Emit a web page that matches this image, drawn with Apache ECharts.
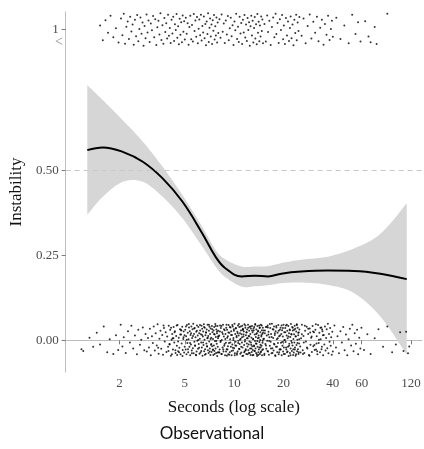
<!DOCTYPE html>
<html>
<head>
<meta charset="utf-8">
<script src="https://cdn.jsdelivr.net/npm/echarts@6.0.0/dist/echarts.min.js"></script>
<style>
  html, body { margin: 0; padding: 0; background: #fff; }
  #chart { width: 424px; height: 449px; }
</style>
</head>
<body>
<div id="chart"></div>
<script>
// smoothed fit (seconds -> instability) and its confidence band
const fitX = [1.27, 1.58, 2.09, 2.77, 3.66, 4.83, 6.38, 7.69, 8.83, 11.1, 13.4, 16.1, 19.4, 25.6, 37.2, 53.8, 78, 113]
const fitY = [0.559, 0.567, 0.554, 0.525, 0.476, 0.408, 0.315, 0.246, 0.212, 0.188, 0.190, 0.188, 0.196, 0.202, 0.205, 0.204, 0.196, 0.180]
const bandUpper = [0.750, 0.706, 0.647, 0.584, 0.510, 0.427, 0.334, 0.266, 0.238, 0.217, 0.217, 0.218, 0.227, 0.237, 0.246, 0.270, 0.313, 0.403]
const bandLower = [0.369, 0.422, 0.466, 0.466, 0.422, 0.359, 0.276, 0.217, 0.186, 0.158, 0.159, 0.162, 0.168, 0.170, 0.163, 0.139, 0.070, -0.042]

const xTicks = [2, 5, 10, 20, 40, 60, 120]
const yTicks = [0, 0.25, 0.5, 1]
const yTickLabels = ['0.00', '0.25', '0.50', '1']
// the axis is broken above 0.5, so "1" sits lower on the scale
const ONE_POS = 0.913

// observations, [seconds, vertical jitter]; outcome 0
const stablePts = [
  [1.17,-.026],[1.2,-.031],[1.31,.008],[1.38,-.019],[1.45,.022],[1.52,-.012],[1.6,.041],[1.68,-.035],[1.74,.003],[1.83,-.04],[1.9,.015],[1.96,-.028],
  [2.03,.046],[2.08,-.018],[2.12,.009],[2.18,-.037],[2.25,.027],[2.31,-.006],[2.36,.043],[2.42,-.024],[2.48,.014],[2.55,-.041],[2.6,.031],[2.66,-.013],[2.71,.002],[2.77,.038],[2.83,-.029],[2.88,.019],[2.93,-.033],[2.98,.007],
  [3.02,-.021],[3.06,.034],[3.1,-.044],[3.15,.012],[3.19,-.008],[3.23,.041],[3.28,-.03],[3.32,.021],[3.37,-.015],[3.41,.047],[3.46,-.039],[3.5,.005],[3.55,.028],[3.59,-.025],[3.64,.016],[3.68,-.042],[3.73,.036],[3.77,-.003],[3.82,.024],[3.86,-.034],[3.9,.011],[3.95,-.019],[3.99,.043],[4.03,-.011],[4.07,.031],[4.11,-.045],[4.15,.002],[4.19,.019],[4.23,-.027],[4.27,.039],[4.31,-.006],[4.35,.027],[4.39,-.037],[4.43,.013],[4.47,-.016],[4.51,.045],[4.55,-.032],[4.59,.008],[4.63,-.022],[4.67,.033],[4.71,-.041],[4.74,.017],[4.78,-.009],[4.82,.04],[4.85,-.028],[4.89,.004],[4.92,.026],[4.95,-.036],[4.98,.015],[3.44,-.022],[3.71,.044],[3.97,-.031],[4.21,.006],[4.49,-.043],[4.76,.029],
  [5.03,.031],[5.06,-.027],[5.09,.012],[5.12,-.041],[5.15,.045],[5.18,-.008],[5.21,.022],[5.24,-.035],[5.27,.003],[5.3,.038],[5.33,-.019],[5.36,.027],[5.39,-.044],[5.42,.016],[5.45,-.012],[5.48,.041],[5.51,-.03],[5.54,.007],[5.57,.033],[5.6,-.023],[5.63,.049],[5.66,-.038],[5.69,.019],[5.72,-.004],[5.75,.036],[5.78,-.016],[5.81,.009],[5.84,-.042],[5.87,.025],[5.9,-.033],[5.93,.044],[5.96,-.001],[5.99,.014],[6.02,-.025],[6.05,.039],[6.08,-.011],[6.11,.021],[6.14,-.039],[6.17,.005],[6.2,.029],
  [6.23,-.036],[6.26,.018],[6.29,-.006],[6.32,.043],[6.35,-.021],[6.38,.034],[6.41,-.045],[6.44,.011],[6.47,.026],[6.5,-.014],[6.53,.047],[6.56,-.032],[6.59,.002],[6.62,.037],[6.65,-.026],[6.68,.015],[6.71,-.04],[6.74,.023],[6.77,-.009],[6.8,.032],[6.83,-.018],[6.86,.006],[6.89,.046],[6.92,-.029],[6.95,.013],[6.98,-.037],[7.01,.028],[7.04,-.003],[7.07,.04],[7.1,-.024],[7.13,.019],[7.16,-.043],[7.19,.035],[7.22,-.013],[7.25,.008],[7.28,-.034],[7.31,.042],[7.34,-.017],[7.37,.024],[7.4,-.028],
  [7.43,.004],[7.46,-.043],[7.49,.029],[7.52,-.015],[7.55,.039],[7.58,-.031],[7.61,.017],[7.64,-.002],[7.67,.048],[7.7,-.024],[7.73,.01],[7.76,-.037],[7.79,.032],[7.82,-.01],[7.85,.021],[7.88,-.046],[7.91,.042],[7.94,-.019],[7.97,.006],[8.0,.028],
  [8.05,-.035],[8.1,.014],[8.15,-.027],[8.2,.044],[8.25,-.005],[8.3,.036],[8.35,-.04],[8.4,.001],[8.45,.024],[8.5,-.021],[8.55,.046],[8.6,-.033],[8.65,.011],[8.7,-.016],[8.75,.03],[8.8,-.044],[8.85,.019],[8.9,-.007],[8.95,.037],[9.0,-.026],
  [9.05,.031],[9.1,-.027],[9.15,.012],[9.2,-.041],[9.25,.045],[9.3,-.008],[9.35,.022],[9.4,-.035],[9.45,.003],[9.5,.038],[9.55,-.019],[9.6,.027],[9.65,-.044],[9.7,.016],[9.75,-.012],[9.8,.041],[9.85,-.03],[9.9,.007],[9.95,.033],[10.0,-.023],[10.05,.049],[10.1,-.038],[10.15,.019],[10.2,-.004],[10.25,.036],[10.3,-.016],[10.35,.009],[10.4,-.042],[10.45,.025],[10.5,-.033],[10.55,.044],[10.6,-.001],[10.65,.014],[10.7,-.025],[10.75,.039],[10.8,-.011],[10.85,.021],[10.9,-.039],[10.95,.005],[11.0,.029],
  [11.05,-.036],[11.1,.018],[11.15,-.006],[11.2,.043],[11.25,-.021],[11.3,.034],[11.35,-.045],[11.4,.011],[11.45,.026],[11.5,-.014],[11.55,.047],[11.6,-.032],[11.65,.002],[11.7,.037],[11.75,-.026],[11.8,.015],[11.85,-.04],[11.9,.023],[11.95,-.009],[12.0,.032],[12.05,-.018],[12.1,.006],[12.15,.046],[12.2,-.029],[12.25,.013],[12.3,-.037],[12.35,.028],[12.4,-.003],[12.45,.04],[12.5,-.024],[12.55,.019],[12.6,-.043],[12.65,.035],[12.7,-.013],[12.75,.008],[12.8,-.034],[12.85,.042],[12.9,-.017],[12.95,.024],[13.0,-.028],
  [13.05,.004],[13.1,-.043],[13.15,.029],[13.2,-.015],[13.25,.039],[13.3,-.031],[13.35,.017],[13.4,-.002],[13.45,.048],[13.5,-.024],[13.55,.01],[13.6,-.037],[13.65,.032],[13.7,-.01],[13.75,.021],[13.8,-.046],[13.85,.042],[13.9,-.019],[13.95,.006],[14.0,.028],[14.05,-.035],[14.1,.014],[14.15,-.027],[14.2,.044],[14.25,-.005],[14.3,.036],[14.35,-.04],[14.4,.001],[14.45,.024],[14.5,-.021],[14.55,.046],[14.6,-.033],[14.65,.011],[14.7,-.016],[14.75,.03],[14.8,-.044],[14.85,.019],[14.9,-.007],[14.95,.037],[15.0,-.026],
  [15.1,.029],[15.2,.005],[15.3,-.039],[15.4,.021],[15.5,-.011],[15.6,.039],[15.7,-.025],[15.8,.014],[15.9,-.001],[16.0,.044],[16.1,-.033],[16.2,.025],[16.3,-.042],[16.4,.009],[16.5,-.016],[16.6,.036],[16.7,-.004],[16.8,.019],[16.9,-.038],[17.0,.049],[17.1,-.023],[17.2,.033],[17.3,.007],[17.4,-.03],[17.5,.041],[17.6,-.012],[17.7,.016],[17.8,-.044],[17.9,.027],[18.0,-.019],[18.1,.038],[18.2,.003],[18.3,-.035],[18.4,.022],[18.5,-.008],[18.6,.045],[18.7,-.041],[18.8,.012],[18.9,-.027],[19.0,.031],
  [19.1,-.026],[19.2,.037],[19.3,-.007],[19.4,.019],[19.5,-.044],[19.6,.03],[19.7,-.016],[19.8,.011],[19.9,-.033],[20.0,.046],[20.1,-.021],[20.2,.024],[20.3,.001],[20.4,-.04],[20.5,.036],[20.6,-.005],[20.7,.044],[20.8,-.027],[20.9,.014],[21.0,-.035],[21.1,.028],[21.2,.006],[21.3,-.019],[21.4,.042],[21.5,-.046],[21.6,.021],[21.7,-.01],[21.8,.032],[21.9,-.037],[22.0,.01],[22.1,-.024],[22.2,.048],[22.3,-.002],[22.4,.017],[22.5,-.031],[22.6,.039],[22.7,-.015],[22.8,.029],[22.9,-.043],[23.0,.004],
  [23.1,-.036],[23.2,.018],[23.3,-.006],[23.4,.043],[23.5,-.021],[23.6,.034],[23.7,-.045],[23.8,.011],[23.9,.026],[24.0,-.014],[24.1,.047],[24.2,-.032],[24.3,.002],[24.4,.037],[24.5,-.026],[24.6,.015],[24.7,-.04],[24.8,.023],[24.9,-.009],[25.0,.032],
  [25.3,-.018],[25.6,.006],[25.9,.046],[26.2,-.029],[26.5,.013],[26.8,-.037],[27.1,.028],[27.4,-.003],[27.7,.04],[28.0,-.024],[28.3,.019],[28.6,-.043],[28.9,.035],[29.2,-.013],[29.5,.008],[29.8,-.034],[30.1,.042],[30.4,-.017],[30.7,.024],[31.0,-.028],[31.3,.031],[31.6,-.027],[31.9,.012],[32.2,-.041],[32.5,.045],[32.8,-.008],[33.1,.022],[33.4,-.035],[33.7,.003],[34.0,.038],[34.3,-.019],[34.6,.027],[34.9,-.044],[35.2,.016],[35.5,-.012],[35.8,.041],[36.1,-.03],[36.4,.007],[36.7,.033],[37.0,-.023],[37.3,.049],[37.6,-.038],[37.9,.019],[38.2,-.004],[38.5,.036],[38.8,-.016],[39.1,.009],[39.4,-.042],[39.7,.025],[40.0,-.033],
  [40.9,.044],[41.8,-.021],[42.7,.012],[43.6,-.038],[44.5,.027],[45.4,-.006],[46.3,.039],[47.2,-.029],[48.1,.017],[49.0,-.044],[49.9,.003],[50.8,.034],[51.7,-.015],[52.6,.046],[53.5,-.032],[54.4,.021],[55.3,-.01],[56.2,.031],[57.1,-.041],[58.0,.008],[58.9,-.024],[59.8,.037],
  [62,-.028],[65,.018],[68,-.04],[72,.006],[76,.033],[81,-.019],[86,.041],[92,-.035],[97,-.012],[103,.024],[108,-.031],[112,.025],[115,-.038],[117,-.018],
  [4.04,-.012],[4.12,.037],[4.17,-.041],[4.26,.006],[4.33,.024],[4.38,-.029],[4.46,.044],[4.55,-.003],[4.61,-.035],[4.69,.017],[4.73,.031],[4.84,-.046],[4.91,.009],[4.99,-.019],[5.08,.041],[5.14,.002],[5.23,-.026],[5.29,.048],[5.38,-.008],[5.46,.021],[5.52,-.038],[5.61,.013],[5.7,.035],[5.77,-.015],[5.86,-.044],[5.92,.028],[6.04,.001],[6.11,-.022],[6.19,.045],[6.3,-.031],[6.37,.016],[6.46,-.006],[6.55,.039],[6.63,-.042],[6.72,.023],[6.84,-.017],[6.9,.008],[7.02,.046],[7.09,-.033],[7.18,.004],[7.26,-.011],[7.35,.033],[7.44,-.027],[7.53,.019],[7.6,-.04],[7.71,.042],[7.78,-.002],[7.86,.026],[7.93,-.036],[7.98,.011],
  [8.03,.011],[8.12,-.036],[8.19,.026],[8.27,-.002],[8.36,.042],[8.41,-.04],[8.52,.019],[8.58,-.027],[8.67,.033],[8.74,-.011],[8.83,.004],[8.92,-.033],[8.98,.046],[9.07,.008],[9.16,-.017],[9.22,.023],[9.33,-.042],[9.41,.039],[9.48,-.006],[9.57,.016],[9.63,-.031],[9.74,.045],[9.82,-.022],[9.88,.001],[9.97,.028],[10.08,-.044],[10.17,-.015],[10.23,.035],[10.34,.013],[10.41,-.038],[10.52,.021],[10.58,-.008],[10.69,.048],[10.77,-.026],[10.86,.002],[10.97,.041],[11.04,-.019],[11.16,.009],[11.22,-.046],[11.33,.031],[11.42,.017],[11.51,-.035],[11.63,-.003],[11.71,.044],[11.78,-.029],[11.89,.024],[11.97,.006],[12.08,-.041],[12.19,.037],[12.27,-.012],
  [12.38,.012],[12.46,-.037],[12.57,.041],[12.66,-.006],[12.74,-.024],[12.87,.029],[12.94,-.044],[13.06,.003],[13.13,.035],[13.24,-.017],[13.36,-.031],[13.43,.046],[13.57,-.009],[13.64,.019],[13.76,-.041],[13.83,-.002],[13.96,.026],[14.04,-.043],[14.13,.008],[14.26,-.021],[14.33,.038],[14.47,-.013],[14.52,-.035],[14.66,.015],[14.73,.044],[14.84,-.028],[14.92,-.001],[14.99,.022],[9.03,-.045],[11.27,.031],
  [15.08,.004],[15.27,-.043],[15.41,.029],[15.63,-.015],[15.82,.039],[15.97,-.031],[16.18,.017],[16.35,-.002],[16.52,.048],[16.77,-.024],[16.93,.01],[17.14,-.037],[17.36,.032],[17.48,-.01],[17.71,.021],[17.86,-.046],[18.07,.042],[18.25,-.019],[18.46,.006],[18.68,.028],[18.83,-.035],[19.06,.014],[19.22,-.027],[19.47,.044],[19.64,-.005],[19.85,.036],[20.08,-.04],[20.33,.001],[20.52,.024],[20.74,-.021],[20.97,.046],[21.18,-.033],[21.43,.011],[21.62,-.016],[21.88,.03],[22.06,-.044],[22.31,.019],[22.52,-.007],[22.78,.037],[22.96,-.026],[23.24,.031],[23.45,-.027],[23.68,.012],[23.87,-.041],[24.14,.045],[24.33,-.008],[24.58,.022],[24.76,-.035],[24.95,.003],[16.06,.038],
  [25.4,-.036],[25.9,.018],[26.6,-.006],[27.0,.043],[27.8,-.021],[28.3,.034],[28.8,-.045],[29.7,.011],[30.3,.026],[30.9,-.014],[31.5,.047],[32.1,-.032],[32.9,.002],[33.6,.037],[34.1,-.026],[34.8,.015],[26.3,-.04],[29.1,.023],[31.8,-.009],[34.4,.032]
]

// observations, [seconds, vertical jitter]; outcome 1
const unstablePts = [
  [1.52,.012],[1.58,-.031],[1.64,.028],[1.7,-.009],[1.76,.041],[1.83,-.022],[1.9,.004],[1.97,-.038],
  [2.04,.033],[2.08,-.016],[2.12,.047],[2.16,-.041],[2.2,.009],[2.24,.024],[2.28,-.027],[2.32,.038],[2.36,-.005],[2.4,.015],[2.44,-.044],[2.48,.029],[2.52,-.019],[2.56,.043],[2.6,-.034],[2.64,.002],[2.68,.036],[2.72,-.012],[2.76,.021],[2.8,-.047],[2.84,.011],[2.88,-.025],[2.92,.045],[2.96,-.008],[3.0,.027],
  [3.05,-.036],[3.1,.018],[3.15,-.002],[3.2,.04],[3.25,-.022],[3.3,.031],[3.35,-.045],[3.4,.007],[3.45,.026],[3.5,-.014],[3.55,.048],[3.6,-.03],[3.65,.013],[3.7,-.041],[3.75,.034],[3.8,-.007],[3.85,.019],[3.9,-.026],[3.95,.044],[4.0,-.018],[4.05,.005],[4.1,-.039],[4.15,.029],[4.2,-.011],[4.25,.038],[4.3,-.033],[4.35,.016],[4.4,-.001],[4.45,.046],[4.5,-.024],[4.55,.01],[4.6,-.043],[4.65,.032],[4.7,-.015],[4.75,.022],[4.8,-.037],[4.85,.042],[4.9,-.006],[4.95,.025],[5.0,-.029],
  [5.07,.035],[5.13,-.012],[5.2,.019],[5.27,-.044],[5.33,.008],[5.4,.041],[5.47,-.028],[5.53,.014],[5.6,-.035],[5.67,.046],[5.73,-.004],[5.8,.027],[5.87,-.021],[5.93,.037],[6.0,-.04],[6.07,.003],[6.13,.03],[6.2,-.016],[6.27,.044],[6.33,-.032],[6.4,.011],[6.47,-.008],[6.53,.039],[6.6,-.025],[6.67,.017],[6.73,-.046],[6.8,.024],[6.87,-.013],[6.93,.048],[7.0,-.036],[7.07,.006],[7.13,.033],[7.2,-.02],[7.27,.015],[7.33,-.042],[7.4,.028],[7.47,-.003],[7.53,.043],[7.6,-.029],[7.67,.01],[7.73,-.017],[7.8,.036],[7.87,-.038],[7.93,.021],[8.0,-.01],
  [8.13,.031],[8.25,-.024],[8.38,.045],[8.51,-.006],[8.64,.018],[8.76,-.039],[8.89,.027],[9.02,-.014],[9.15,.04],[9.27,-.031],[9.4,.004],[9.53,.035],[9.65,-.019],[9.78,.013],[9.91,-.045],[10.04,.024],[10.16,-.002],[10.29,.047],[10.42,-.027],[10.55,.009],[10.67,-.036],[10.8,.038],[10.93,-.011],[11.05,.02],[11.18,-.042],[11.31,.029],[11.44,-.008],[11.56,.043],[11.69,-.023],[11.82,.015],[11.95,-.033],[12.07,.034],[12.2,-.001],[12.33,.022],[12.45,-.047],[12.58,.01],[12.71,.041],[12.84,-.017],[12.96,.026],[13.09,-.038],[13.22,.005],[13.35,.037],[13.47,-.026],[13.6,.016],[13.73,-.043],[13.85,.046],[13.98,-.009],[14.11,.023],[14.24,-.034],[14.36,.012],[14.49,-.02],[14.62,.039],[14.75,-.004],[14.87,.03],[15.0,-.04],
  [15.3,.017],[15.6,-.035],[15.9,.042],[16.1,-.007],[16.4,.026],[16.7,-.045],[17.0,.008],[17.3,.036],[17.6,-.022],[17.9,.047],[18.1,-.013],[18.4,.02],[18.7,-.039],[19.0,.031],[19.3,-.001],[19.6,.043],[19.9,-.028],[20.1,.012],[20.4,-.042],[20.7,.034],[21.0,-.017],[21.3,.024],[21.6,-.033],[21.9,.005],[22.1,.039],[22.4,-.025],[22.7,.015],[23.0,-.046],[23.3,.029],[23.6,-.01],[23.9,.044],[24.1,-.031],[24.4,.021],[24.7,-.004],[25.0,.037],
  [25.8,-.018],[26.5,.033],[27.3,-.04],[28.1,.011],[28.9,.045],[29.6,-.026],[30.4,.023],[31.2,-.009],[32.0,.038],[32.7,-.034],[33.5,.006],[34.3,.029],[35.1,-.044],[35.8,.017],[36.6,-.015],[37.4,.041],[38.2,-.03],[38.9,.002],[39.5,.026],[40.0,-.021],
  [42,.035],[44.5,-.027],[47,.012],[50,-.04],[52.5,.044],[55,-.013],[57,.022],[59,-.035],
  [63,.025],[66,-.02],[68,-.037],[72,.008],[74,-.042],[86,.047]
]

function yPos(v) {
  return v === 1 ? ONE_POS : v
}

// Catmull-Rom through pixel points, so the band edges curve like the fit line
function smoothEdge(pts, steps) {
  const out = []
  for (let i = 0; i < pts.length - 1; i++) {
    const p0 = pts[Math.max(i - 1, 0)]
    const p1 = pts[i]
    const p2 = pts[i + 1]
    const p3 = pts[Math.min(i + 2, pts.length - 1)]
    for (let s = 0; s < steps; s++) {
      const t = s / steps
      const t2 = t * t
      const t3 = t2 * t
      out.push([0, 1].map((k) => 0.5 * (2 * p1[k] + (p2[k] - p0[k]) * t +
        (2 * p0[k] - 5 * p1[k] + 4 * p2[k] - p3[k]) * t2 +
        (3 * p1[k] - p0[k] - 3 * p2[k] + p3[k]) * t3)))
    }
  }
  out.push(pts[pts.length - 1])
  return out
}

const chart = echarts.init(document.getElementById('chart'))

const serif = 'Liberation Serif'
const tickColor = '#4d4d4d'

chart.setOption({
  backgroundColor: '#ffffff',
  animation: false,
  title: {
    text: 'Observational',
    left: 'center',
    top: 420,
    textStyle: {
      fontFamily: 'Lato',
      fontWeight: 'normal',
      fontSize: 17,
      color: '#111'
    }
  },
  grid: {
    left: 62,
    right: 2,
    top: 12,
    bottom: 77
  },
  xAxis: {
    type: 'log',
    min: 0.937,
    max: 140,
    name: 'Seconds (log scale)',
    nameLocation: 'middle',
    nameGap: 27,
    nameTextStyle: {
      fontFamily: serif,
      fontSize: 17,
      color: '#111',
      padding: [0, 20, 0, 0]
    },
    axisLine: { lineStyle: { color: '#bdbdbd', width: 1 } },
    axisTick: { customValues: xTicks, length: 4, lineStyle: { color: '#7a7a7a' } },
    axisLabel: {
      customValues: xTicks,
      margin: 5,
      fontFamily: serif,
      fontSize: 13,
      color: tickColor,
      formatter: (v) => String(v)
    },
    splitLine: { show: false }
  },
  yAxis: {
    type: 'value',
    min: -0.093,
    max: 0.965,
    name: 'Instability',
    nameLocation: 'middle',
    nameGap: 37,
    nameTextStyle: {
      fontFamily: serif,
      fontSize: 17,
      color: '#111'
    },
    axisLine: { show: true, lineStyle: { color: '#bdbdbd', width: 1 } },
    axisTick: { show: true, customValues: yTicks.map(yPos), length: 4, lineStyle: { color: '#7a7a7a' } },
    axisLabel: {
      customValues: yTicks.map(yPos),
      margin: 7,
      fontFamily: serif,
      fontSize: 13,
      color: tickColor,
      formatter: (v) => {
        const i = yTicks.findIndex((t) => Math.abs(yPos(t) - v) < 1e-6)
        return i >= 0 ? yTickLabels[i] : ''
      }
    },
    splitLine: { show: false }
  },
  graphic: [
    {
      type: 'text',
      left: 55,
      top: 35,
      style: { text: '<', fontFamily: serif, fontSize: 14, fill: '#8a8a8a' }
    }
  ],
  series: [
    {
      name: 'band',
      type: 'custom',
      silent: true,
      z: 1,
      data: [[fitX[0], bandLower[0]]],
      renderItem: (params, api) => {
        const upper = fitX.map((x, i) => api.coord([x, bandUpper[i]]))
        const lower = fitX.map((x, i) => api.coord([x, bandLower[i]])).reverse()
        return {
          type: 'polygon',
          shape: { points: smoothEdge(upper, 12).concat(smoothEdge(lower, 12)) },
          style: { fill: '#d6d6d6' }
        }
      }
    },
    {
      name: 'stable',
      type: 'scatter',
      symbolSize: 2,
      itemStyle: { color: '#000' },
      z: 3,
      data: stablePts.map((p) => [p[0], yPos(0) + p[1]])
    },
    {
      name: 'unstable',
      type: 'scatter',
      symbolSize: 2,
      itemStyle: { color: '#000' },
      z: 3,
      data: unstablePts.map((p) => [p[0], yPos(1) + p[1]])
    },
    {
      name: 'fit',
      type: 'line',
      smooth: 0.4,
      symbol: 'none',
      lineStyle: { color: '#000', width: 2 },
      z: 4,
      markLine: {
        silent: true,
        symbol: 'none',
        label: { show: false },
        lineStyle: { color: '#c8c8c8', type: [5, 4], width: 1 },
        data: [{ yAxis: 0.5 }]
      },
      data: fitX.map((x, i) => [x, fitY[i]])
    }
  ]
})
</script>
</body>
</html>
